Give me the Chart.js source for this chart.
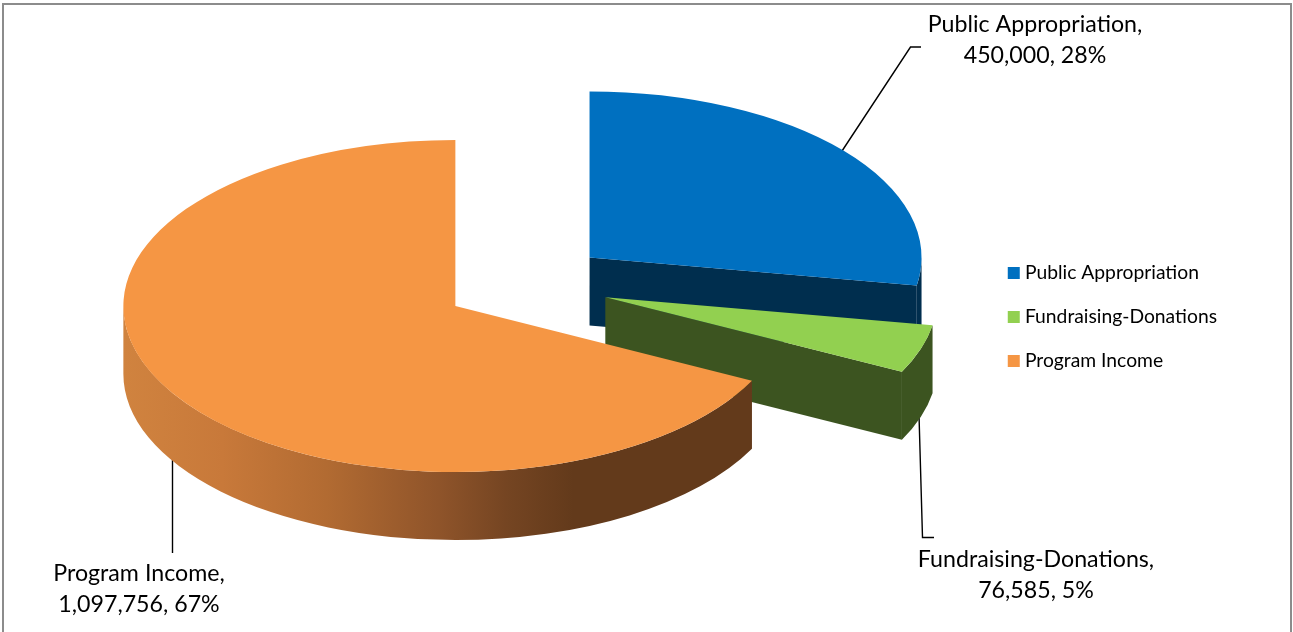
<!DOCTYPE html>
<html>
<head>
<meta charset="utf-8">
<style>
  html, body { margin: 0; padding: 0; background: #fff; overflow: hidden; }
  #wrap { width: 1293px; height: 632px; position: relative; }
</style>
<script src="https://cdn.jsdelivr.net/npm/chart.js@4/dist/chart.umd.min.js"></script>
</head>
<body>
<div id="wrap"><canvas id="pie" width="1293" height="632"></canvas></div>
<script>
// Funding sources
const categories = ['Public Appropriation', 'Fundraising-Donations', 'Program Income'];
const amounts = [450000, 76585, 1097756];
const percentLabels = ['28%', '5%', '67%'];

// Colours of the top faces and the dark side walls
const topColors = ['#0070c0', '#92d050', '#f59644'];
const wallColors = ['#002e4e', '#3c5420', null];
const orangeWallStops = [[0, '#d0833f'], [0.22, '#c8793a'], [0.45, '#b26b32'], [0.7, '#8f542a'], [0.85, '#754522'], [1, '#633a1b']];

// Pie geometry
const RADIUS = 332;
const TILT = 0.5;
const DEPTH = 68;
const explode = [77.5, 79, 88];
const sliceDrop = [-0.5, 1.8, 0];

// Data label placement and leader lines
const labelAnchors = [[1035, 25, 56], [1036, 560, 591], [139, 574, 605]];
const leaders = [
  [[842, 151], [910.5, 47], [921, 47]],
  [[919, 415], [922.5, 537.5], [934, 537.5]],
  [[172.5, 455], [172.5, 553]]
];
const LABEL_FONT = '23.2px Lato, sans-serif';

function sliceFrame(arc, i) {
  const mid = (arc.startAngle + arc.endAngle) / 2;
  return {
    x: arc.x + Math.cos(mid) * explode[i],
    y: arc.y - DEPTH / 2 + Math.sin(mid) * explode[i] * TILT + sliceDrop[i]
  };
}

// Visible outer wall between two canvas angles, plus the cut face at the slice's end angle.
function drawSides(ctx, arc, i) {
  const f = sliceFrame(arc, i);
  const rx = arc.outerRadius, ry = rx * TILT;
  let fill = wallColors[i];
  if (!fill) {
    const g = ctx.createLinearGradient(f.x - rx, 0, f.x + 118, 0);
    orangeWallStops.forEach(s => g.addColorStop(s[0], s[1]));
    fill = g;
  }
  ctx.fillStyle = fill;
  const a0 = Math.max(arc.startAngle, 0);
  const a1 = Math.min(arc.endAngle, Math.PI);
  if (a1 > a0) {
    ctx.beginPath();
    ctx.ellipse(f.x, f.y, rx, ry, 0, a0, a1);
    ctx.ellipse(f.x, f.y + DEPTH, rx, ry, 0, a1, a0, true);
    ctx.closePath();
    ctx.fill();
  }
  // The closing cut face only shows when it ends in the front half of the ellipse.
  if (arc.endAngle < Math.PI) {
    const ex = f.x + Math.cos(arc.endAngle) * rx;
    const ey = f.y + Math.sin(arc.endAngle) * ry;
    ctx.beginPath();
    ctx.moveTo(f.x, f.y);
    ctx.lineTo(ex, ey);
    ctx.lineTo(ex, ey + DEPTH);
    ctx.lineTo(f.x, f.y + DEPTH);
    ctx.closePath();
    ctx.fill();
  }
}

const tiltedPie = {
  id: 'tiltedPie',
  beforeDraw(chart) {
    const ctx = chart.ctx;
    ctx.save();
    ctx.strokeStyle = '#8c8c8c';
    ctx.lineWidth = 2;
    ctx.strokeRect(3, 4, 1288, 700);
    // Leader lines run underneath the slices
    ctx.strokeStyle = '#000';
    ctx.lineWidth = 1.4;
    leaders.forEach(path => {
      ctx.beginPath();
      path.forEach((p, k) => k ? ctx.lineTo(p[0], p[1]) : ctx.moveTo(p[0], p[1]));
      ctx.stroke();
    });
    ctx.restore();
  },
  beforeDatasetDraw(chart) {
    const ctx = chart.ctx;
    const arcs = chart.getDatasetMeta(0).data;
    arcs.forEach((arc, i) => {
      ctx.save();
      drawSides(ctx, arc, i);
      const f = sliceFrame(arc, i);
      ctx.translate(f.x, f.y);
      ctx.scale(1, TILT);
      ctx.translate(-arc.x, -arc.y);
      arc.draw(ctx);
      ctx.restore();
    });
    return false;
  },
  afterDraw(chart) {
    const ctx = chart.ctx;
    ctx.save();
    ctx.fillStyle = '#000';
    ctx.font = LABEL_FONT;
    ctx.textAlign = 'center';
    ctx.textBaseline = 'middle';
    categories.forEach((name, i) => {
      const a = labelAnchors[i];
      ctx.fillText(name + ',', a[0], a[1]);
      ctx.fillText(amounts[i].toLocaleString('en-US') + ', ' + percentLabels[i], a[0], a[2]);
    });
    ctx.restore();
  }
};

new Chart(document.getElementById('pie'), {
  type: 'pie',
  plugins: [tiltedPie],
  data: {
    labels: categories,
    datasets: [{ data: amounts, backgroundColor: topColors, borderWidth: 0, hoverOffset: 0 }]
  },
  options: {
    responsive: false,
    animation: false,
    events: [],
    radius: RADIUS,
    layout: { padding: { left: 73, right: 66, top: 2 } },
    plugins: {
      tooltip: { enabled: false },
      legend: {
        position: 'right',
        labels: {
          usePointStyle: true,
          pointStyle: 'rect',
          boxWidth: 3,
          boxHeight: 12,
          padding: 24.7,
          color: '#000',
          font: { family: 'Lato, sans-serif', size: 19.3 }
        }
      }
    }
  }
});
</script>
</body>
</html>
